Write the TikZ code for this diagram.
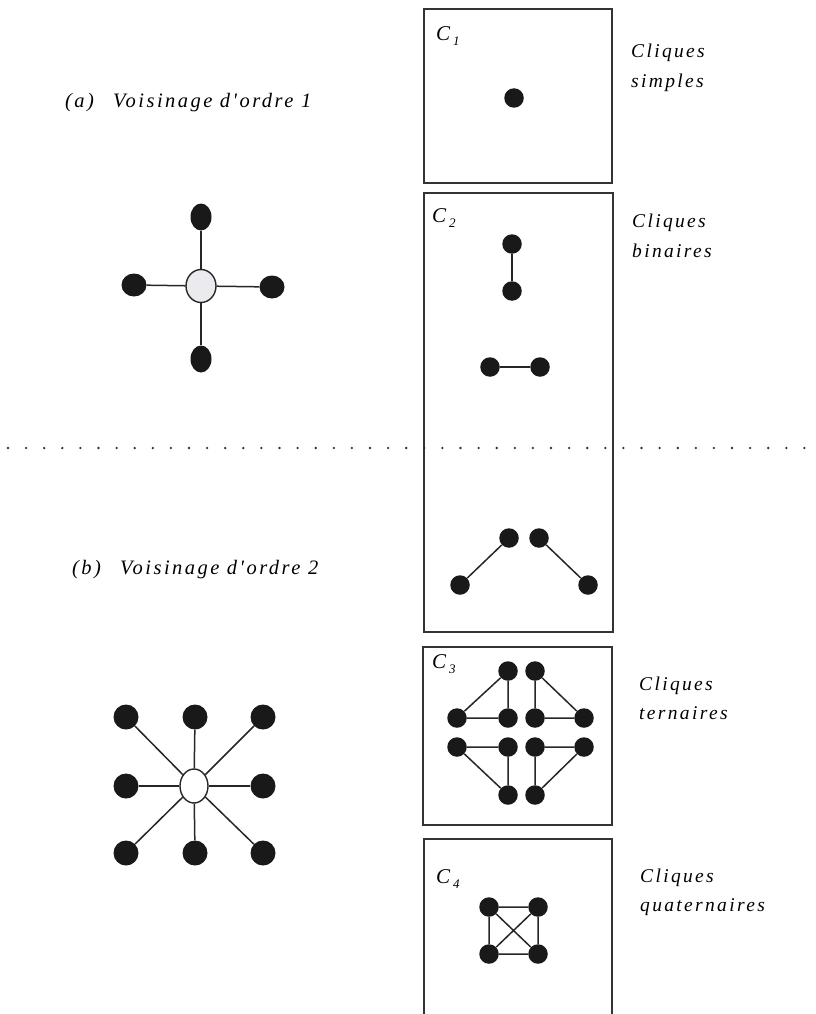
\documentclass[tikz,border=0pt]{standalone}
\usepackage{fontspec}
\setmainfont{Liberation Serif}
\newfontfamily\spaced[LetterSpace=12]{Liberation Serif}
\usetikzlibrary{shapes.geometric}
\newcommand{\clab}[1]{C\kern3pt\raisebox{-5pt}{\fontsize{13}{14}\selectfont #1}}
\begin{document}
\begin{tikzpicture}[x=1pt,y=-1pt,
  dot/.style={circle,fill=black!90,draw=none,inner sep=0pt,minimum size=19.5pt},
  bigdot/.style={circle,fill=black!90,draw=none,inner sep=0pt,minimum size=25pt},
  vdot/.style={ellipse,fill=black!90,draw=none,inner sep=0pt,minimum width=21pt,minimum height=27pt},
  hdot/.style={ellipse,fill=black!90,draw=none,inner sep=0pt,minimum width=25pt,minimum height=23pt},
  edge/.style={draw=black!85,line width=1.5pt},
  box/.style={draw=black!80,line width=1.6pt},
  lbl/.style={anchor=base west,inner sep=0pt,font=\spaced\itshape\fontsize{19.5}{22}\selectfont},
  llbl/.style={anchor=base west,inner sep=0pt,font=\spaced\itshape\fontsize{20.5}{23}\selectfont},
  clbl/.style={anchor=base west,inner sep=0pt,font=\itshape\fontsize{21}{23}\selectfont}]
\useasboundingbox (0,0) rectangle (815,1014);

% dotted separator
\coordinate (dl) at (8,448);
\coordinate (dr) at (815,448);
\draw[black!80,line width=2.6pt,line cap=round,dash pattern=on 0pt off 18.1pt] (dl) -- (dr);

% left labels
\node[llbl] (la) at (65,108) {(a)\hspace{19pt}Voisinage d'ordre 1};
\node[llbl] (lb) at (72,574) {(b)\hspace{19pt}Voisinage d'ordre 2};

% star (a)
\node[ellipse,draw=black!85,line width=1.4pt,fill=blue!10!gray!14,minimum width=30pt,minimum height=33pt,inner sep=0pt] (ca) at (201,286) {};
\node[vdot] (at) at (201,217) {};
\node[vdot] (ab) at (201,359) {};
\node[hdot] (al) at (134,285) {};
\node[hdot] (ar) at (272,287) {};
\foreach \n in {at,ab,al,ar} \draw[edge] (ca) -- (\n);

% star (b)
\node[ellipse,draw=black!85,line width=1.4pt,fill=white,minimum width=28pt,minimum height=34pt,inner sep=0pt] (cb) at (194,786) {};
\node[bigdot] (b1) at (126,717) {};
\node[bigdot] (b2) at (195,717) {};
\node[bigdot] (b3) at (263,717) {};
\node[bigdot] (b4) at (126,786) {};
\node[bigdot] (b5) at (263,786) {};
\node[bigdot] (b6) at (126,853) {};
\node[bigdot] (b7) at (195,853) {};
\node[bigdot] (b8) at (263,853) {};
\foreach \n in {b1,b2,b3,b4,b5,b6,b7,b8} \draw[edge] (cb) -- (\n);

% boxes
\draw[box] (424,9) rectangle (612,183);
\draw[box] (424,193) rectangle (613,632);
\draw[box] (423,647) rectangle (612,825);
\draw[box] (424,1014) -- (424,839) -- (612,839) -- (612,1014);

% box labels
\node[clbl] (c1) at (436,41) {\clab{1}};
\node[clbl] (c2) at (432,222) {\clab{2}};
\node[clbl] (c3) at (432,668) {\clab{3}};
\node[clbl] (c4) at (436,883) {\clab{4}};

% C1
\node[dot] (s1) at (514,98) {};

% C2
\node[dot] (p1) at (512,244) {};
\node[dot] (p2) at (512,291) {};
\draw[edge] (p1) -- (p2);
\node[dot] (q1) at (490,367) {};
\node[dot] (q2) at (540,367) {};
\draw[edge] (q1) -- (q2);
\node[dot] (r1) at (509,538) {};
\node[dot] (r2) at (460,585) {};
\draw[edge] (r1) -- (r2);
\node[dot] (r3) at (539,538) {};
\node[dot] (r4) at (588,585) {};
\draw[edge] (r3) -- (r4);

% C3
\node[dot] (t1) at (508,671) {};
\node[dot] (t2) at (457,718) {};
\node[dot] (t3) at (508,718) {};
\draw[edge] (t1) -- (t2) -- (t3) -- (t1);
\node[dot] (u1) at (535,671) {};
\node[dot] (u2) at (535,718) {};
\node[dot] (u3) at (584,718) {};
\draw[edge] (u1) -- (u2) -- (u3) -- (u1);
\node[dot] (v1) at (457,747) {};
\node[dot] (v2) at (508,747) {};
\node[dot] (v3) at (508,795) {};
\draw[edge] (v1) -- (v2) -- (v3) -- (v1);
\node[dot] (w1) at (535,747) {};
\node[dot] (w2) at (584,747) {};
\node[dot] (w3) at (535,795) {};
\draw[edge] (w1) -- (w2) -- (w3) -- (w1);

% C4
\node[dot] (k1) at (489,907) {};
\node[dot] (k2) at (538,907) {};
\node[dot] (k3) at (489,954) {};
\node[dot] (k4) at (538,954) {};
\draw[edge] (k1) -- (k2) -- (k4) -- (k3) -- (k1) -- (k4);
\draw[edge] (k2) -- (k3);

% right labels
\node[lbl] (s1a) at (631,58) {Cliques};
\node[lbl] (s1b) at (631,88) {simples};
\node[lbl] (s2a) at (632,227) {Cliques};
\node[lbl] (s2b) at (632,257) {binaires};
\node[lbl] (s3a) at (639,690) {Cliques};
\node[lbl] (s3b) at (639,719) {ternaires};
\node[lbl] (s4a) at (640,882) {Cliques};
\node[lbl] (s4b) at (640,911) {quaternaires};
\end{tikzpicture}
\end{document}
